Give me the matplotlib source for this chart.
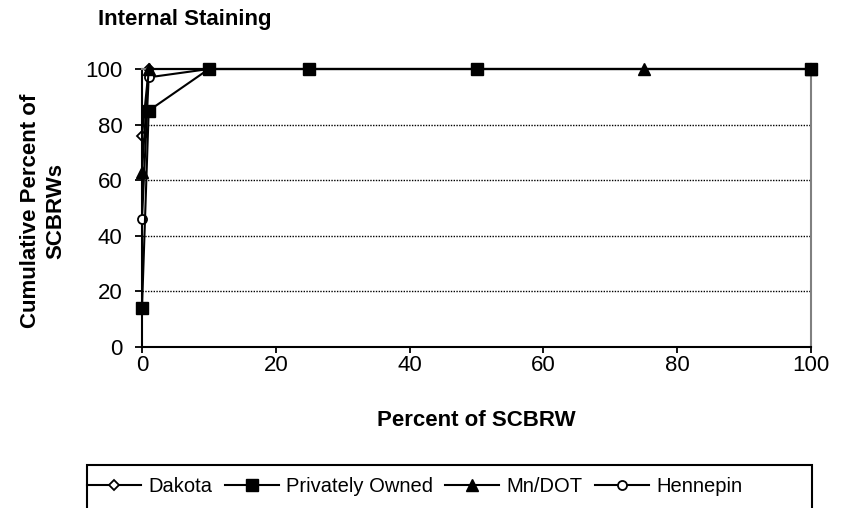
import numpy as np
import matplotlib.pyplot as plt
from matplotlib.patches import Rectangle

plt.rcParams['font.family'] = ['Liberation Sans', 'DejaVu Sans']

# percentuale di SCBRW (asse x) e percentuale cumulata per gruppo
x_dakota = [0, 1, 100]
dakota = [76, 100, 100]
x_privati = [0, 1, 10, 25, 50, 100]
privati = [14, 85, 100, 100, 100, 100]
x_mndot = [0, 1, 75, 100]
mndot = [63, 100, 100, 100]
x_hennepin = [0, 1, 10, 100]
hennepin = [46, 97, 100, 100]

nomi = ["Dakota", "Privately Owned", "Mn/DOT", "Hennepin"]

fig = plt.figure(figsize=(8.51, 5.08), dpi=100)
ax = fig.add_axes([142/851, 1-347/508, 669/851, 278/508])

# stile dei marker per ogni serie
l1, = ax.plot(x_dakota, dakota, color='black', lw=1.5, marker='D', ms=5.2, mfc='white', mec='black', mew=1.3, zorder=2, clip_on=False)
l4, = ax.plot(x_hennepin, hennepin, color='black', lw=1.5, marker='o', ms=6.5, mfc='white', mec='black', mew=1.3, zorder=3, clip_on=False)
l3, = ax.plot(x_mndot, mndot, color='black', lw=1.5, marker='^', ms=8.5, mfc='black', mec='black', zorder=4, clip_on=False)
l2, = ax.plot(x_privati, privati, color='black', lw=1.5, marker='s', ms=8, mfc='black', mec='black', zorder=5, clip_on=False)

ax.set_xlim(0, 100)
ax.set_ylim(0, 100)
ax.set_xticks(np.arange(0, 101, 20))
ax.set_yticks(np.arange(0, 101, 20))
ax.tick_params(axis='x', labelsize=16, direction='out', length=4.5, width=1.3, pad=1.5)
ax.tick_params(axis='y', labelsize=16, direction='out', length=5, width=1.3, pad=9)

# griglia tratteggiata
for yv in [20, 40, 60, 80]:
    ax.axhline(yv, color='black', lw=1, ls=(0, (1, 1)), zorder=0)

ax.spines['left'].set_linewidth(1.5)
ax.spines['bottom'].set_linewidth(1.5)
ax.spines['right'].set_color('gray')
ax.spines['right'].set_linewidth(1.5)
ax.spines['top'].set_color('gray')
ax.spines['top'].set_linewidth(1.5)
for s in ax.spines.values():
    s.set_clip_on(False)

# etichette e titolo
fig.text(476/851, 1-421/508, "Percent of SCBRW", fontsize=16, fontweight='bold', ha='center', va='center')
fig.text(43/851, 1-211/508, "Cumulative Percent of\nSCBRWs", fontsize=16, fontweight='bold',
         ha='center', va='center', rotation=90, multialignment='center', linespacing=1.3)
fig.text(98/851, 1-20/508, "Internal Staining", fontsize=16, fontweight='bold', va='center', ha='left')

# legenda con riquadro
leg = fig.legend([l1, l2, l3, l4], nomi, loc='upper left', bbox_to_anchor=(87/851, 1-477/508),
                 ncol=4, fontsize=14.5, frameon=False, handlelength=2.7,
                 handletextpad=0.35, borderaxespad=0, borderpad=0, columnspacing=0.6)
box = Rectangle((87/851, -0.05), (812-87)/851, 0.05+(508-465)/508, transform=fig.transFigure,
                fill=False, edgecolor='black', lw=1.5)
fig.patches.append(box)

fig.savefig("out.png", dpi=100)
